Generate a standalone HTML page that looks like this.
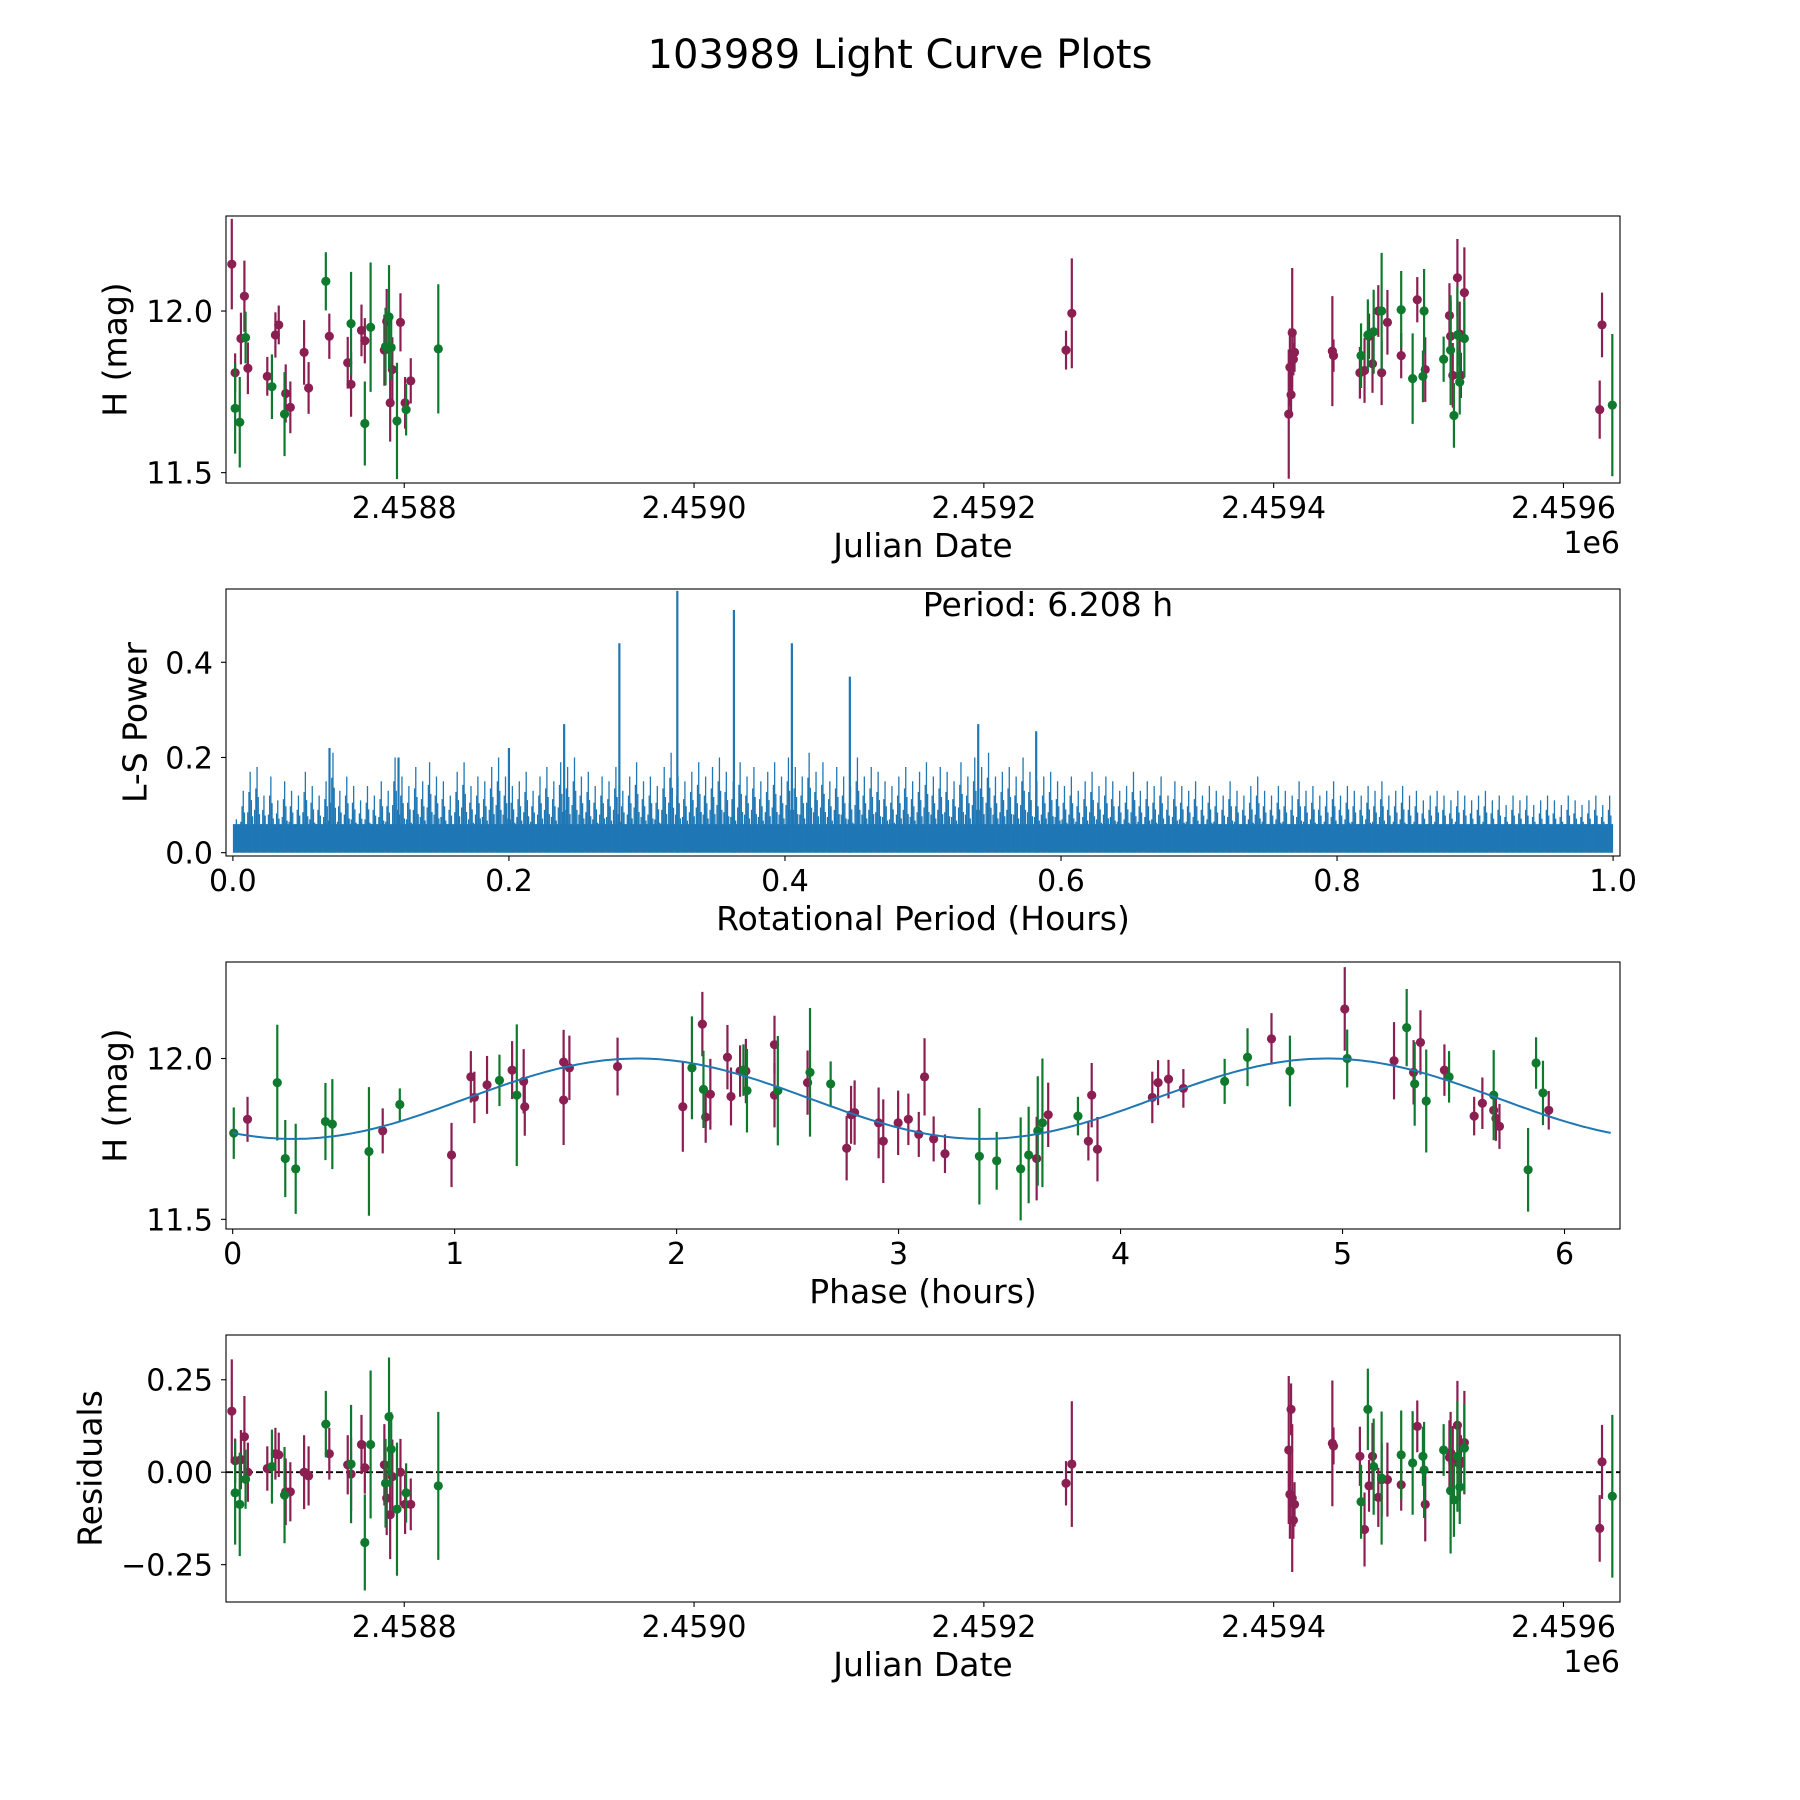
<!DOCTYPE html>
<html><head><meta charset="utf-8"><style>
body{margin:0;background:#fff}
svg{display:block;font-family:"DejaVu Sans","Liberation Sans",sans-serif}
</style></head><body>
<svg id="fig" width="1800" height="1800" viewBox="0 0 1800 1800">
<text x="900" y="68" font-size="40" text-anchor="middle">103989 Light Curve Plots</text>
</svg>
<script>
// ---- Panel 1: light curve data ----
const p1PurpleJD=[2458681.0,2458683.3,2458687.3,2458689.7,2458692.1,2458705.5,2458711.1,2458713.4,2458718.2,2458721.4,2458730.9,2458734.0,2458748.3,2458761.0,2458763.3,2458770.5,2458772.8,2458786.3,2458787.9,2458790.3,2458791.8,2458797.4,2458800.6,2458804.5,2459256.7,2459260.7,2459410.4,2459411.2,2459412.0,2459412.8,2459413.6,2459414.4,2459440.5,2459441.3,2459459.5,2459462.7,2459465.8,2459468.2,2459472.2,2459474.5,2459478.5,2459488.0,2459499.1,2459504.6,2459521.3,2459522.1,2459523.6,2459526.8,2459528.4,2459529.2,2459531.6,2459625.0,2459626.6];
const p1PurpleMag=[12.145,11.809,11.915,12.046,11.823,11.798,11.926,11.957,11.745,11.702,11.872,11.762,11.922,11.840,11.773,11.940,11.908,11.879,11.968,11.716,11.819,11.965,11.716,11.784,11.879,11.993,11.681,11.826,11.741,11.933,11.851,11.872,11.876,11.862,11.809,11.816,11.922,11.837,12.000,11.809,11.965,11.862,12.035,11.819,11.986,11.922,11.801,12.103,11.929,11.801,12.057,11.695,11.957];
const p1PurpleErr=[0.14,0.06,0.08,0.11,0.08,0.06,0.07,0.06,0.09,0.08,0.1,0.08,0.07,0.08,0.1,0.08,0.07,0.11,0.1,0.12,0.1,0.09,0.08,0.07,0.06,0.17,0.2,0.12,0.07,0.2,0.05,0.06,0.17,0.05,0.08,0.1,0.07,0.09,0.08,0.1,0.1,0.07,0.07,0.1,0.1,0.11,0.1,0.12,0.1,0.07,0.14,0.09,0.1];
const p1GreenJD=[2458683.3,2458686.5,2458690.5,2458708.7,2458717.4,2458745.9,2458763.3,2458772.8,2458776.8,2458787.1,2458789.5,2458791.0,2458795.0,2458801.3,2458823.5,2459460.3,2459465.0,2459469.0,2459474.5,2459488.0,2459495.9,2459503.0,2459503.8,2459517.3,2459522.1,2459524.4,2459526.8,2459528.4,2459531.6,2459633.7];
const p1GreenMag=[11.699,11.656,11.918,11.766,11.681,12.092,11.961,11.652,11.950,11.890,11.982,11.887,11.660,11.695,11.883,11.862,11.926,11.936,12.000,12.004,11.791,11.798,12.000,11.851,11.879,11.677,11.926,11.780,11.915,11.709];
const p1GreenErr=[0.14,0.14,0.08,0.1,0.13,0.09,0.16,0.13,0.2,0.12,0.16,0.1,0.18,0.08,0.2,0.1,0.11,0.13,0.18,0.12,0.14,0.08,0.13,0.07,0.17,0.1,0.15,0.1,0.12,0.22];
// ---- Panel 4: residuals ----
const resPurple=[0.165,0.031,0.034,0.096,0.0,0.01,0.05,0.047,-0.053,-0.053,0.0,-0.01,0.05,0.02,-0.005,0.075,0.012,0.02,-0.07,-0.115,-0.012,0.0,-0.087,-0.087,-0.03,0.022,0.06,-0.06,0.17,-0.07,-0.13,-0.087,0.078,0.071,0.043,-0.155,-0.037,0.043,-0.068,-0.02,-0.02,-0.034,0.124,-0.087,0.04,0.053,0.025,0.127,0.022,0.03,0.08,-0.152,0.028];
const resGreen=[-0.056,-0.087,-0.019,0.015,-0.062,0.13,0.022,-0.19,0.075,-0.03,0.15,0.062,-0.1,-0.056,-0.037,-0.08,0.17,0.015,-0.016,0.047,0.025,0.043,0.006,0.06,-0.05,-0.075,0.043,-0.04,0.065,-0.065];
// ---- Panel 2: periodogram ----
const lsPeriodStep=0.005;
const lsPower=[0.07,0.13,0.17,0.18,0.12,0.16,0.11,0.15,0.13,0.12,0.17,0.14,0.12,0.15,0.21,0.13,0.16,0.14,0.11,0.14,0.12,0.15,0.13,0.2,0.16,0.14,0.18,0.15,0.19,0.16,
0.15,0.12,0.17,0.19,0.14,0.16,0.15,0.18,0.2,0.16,0.14,0.15,0.17,0.13,0.16,0.18,0.15,0.19,0.18,0.2,0.16,0.17,0.14,0.16,0.15,0.18,0.13,0.16,0.19,0.15,
0.16,0.14,0.18,0.21,0.16,0.15,0.17,0.19,0.16,0.18,0.2,0.17,0.15,0.19,0.16,0.18,0.15,0.17,0.19,0.16,0.2,0.18,0.16,0.21,0.17,0.19,0.15,0.18,0.16,0.14,
0.2,0.16,0.18,0.17,0.15,0.14,0.16,0.18,0.15,0.17,0.19,0.16,0.18,0.17,0.15,0.19,0.16,0.2,0.18,0.21,0.16,0.17,0.18,0.16,0.2,0.17,0.15,0.16,0.17,0.15,
0.14,0.16,0.13,0.15,0.17,0.14,0.16,0.15,0.13,0.14,0.17,0.13,0.15,0.14,0.16,0.12,0.15,0.14,0.13,0.15,0.12,0.14,0.13,0.12,0.15,0.13,0.12,0.14,0.16,0.13,
0.12,0.14,0.13,0.12,0.15,0.13,0.14,0.12,0.13,0.15,0.12,0.14,0.13,0.12,0.14,0.13,0.15,0.12,0.13,0.14,0.12,0.13,0.11,0.12,0.13,0.12,0.11,0.13,0.12,0.11,
0.12,0.13,0.11,0.12,0.1,0.12,0.11,0.12,0.1,0.11,0.12,0.11,0.1,0.12,0.11,0.1,0.11,0.12,0.1,0.12];
const lsPeakPeriod=[0.24,0.28,0.322,0.363,0.405,0.447,0.54,0.582,0.12,0.07,0.2];
const lsPeakPower=[0.27,0.44,0.55,0.51,0.44,0.37,0.27,0.255,0.2,0.22,0.22];
const lsNoiseFloor=0.06;
// ---- Panel 3: phased light curve ----
const phPurple=[0.067,0.676,0.986,1.073,1.089,1.146,1.259,1.311,1.316,1.491,1.491,1.517,1.734,2.028,2.116,2.131,2.152,2.229,2.245,2.286,2.312,2.441,2.441,2.590,2.766,2.786,2.802,2.910,2.931,2.998,3.044,3.091,3.117,3.158,3.209,3.622,3.674,3.855,3.870,3.896,4.143,4.169,4.216,4.283,4.680,5.010,5.232,5.320,5.351,5.459,5.593,5.630,5.681,5.691,5.707,5.929];
const phPurpleMag=[11.811,11.775,11.700,11.943,11.879,11.918,11.964,11.929,11.850,11.989,11.871,11.971,11.975,11.850,12.107,11.818,11.889,12.004,11.882,11.961,11.961,12.043,11.886,11.925,11.721,11.825,11.832,11.800,11.743,11.800,11.811,11.764,11.943,11.750,11.704,11.689,11.825,11.743,11.886,11.718,11.879,11.925,11.936,11.907,12.061,12.154,11.993,11.957,12.050,11.964,11.821,11.861,11.839,11.814,11.789,11.839];
const phPurpleErr=[0.07,0.07,0.1,0.08,0.08,0.09,0.09,0.1,0.09,0.1,0.14,0.1,0.09,0.14,0.1,0.08,0.11,0.1,0.09,0.08,0.1,0.09,0.1,0.1,0.1,0.09,0.1,0.11,0.13,0.1,0.08,0.07,0.12,0.07,0.06,0.13,0.1,0.06,0.1,0.1,0.08,0.07,0.06,0.06,0.08,0.13,0.12,0.1,0.1,0.08,0.06,0.08,0.06,0.07,0.07,0.06];
const phGreen=[0.005,0.201,0.237,0.284,0.418,0.449,0.614,0.753,1.202,1.280,2.069,2.121,2.301,2.317,2.456,2.601,2.694,3.364,3.442,3.550,3.586,3.627,3.648,3.808,4.469,4.572,4.763,5.021,5.289,5.325,5.377,5.480,5.681,5.836,5.872,5.903];
const phGreenMag=[11.768,11.925,11.689,11.657,11.804,11.796,11.711,11.857,11.932,11.886,11.971,11.904,11.964,11.900,11.900,11.957,11.921,11.696,11.682,11.657,11.700,11.775,11.800,11.821,11.929,12.004,11.961,12.0,12.096,11.921,11.868,11.943,11.886,11.654,11.986,11.893];
const phGreenErr=[0.08,0.18,0.12,0.14,0.12,0.14,0.2,0.05,0.08,0.22,0.16,0.12,0.08,0.13,0.17,0.2,0.07,0.15,0.09,0.16,0.15,0.17,0.2,0.06,0.07,0.09,0.11,0.09,0.12,0.13,0.16,0.08,0.14,0.13,0.08,0.1];
// sinusoidal model fit parameters: mean, amplitude, phase-offset, period (hours), phase length
const fitParams=[11.875,0.125,1.05,3.104,6.208];

const NS='http://www.w3.org/2000/svg';
const svg=document.getElementById('fig');
const PURPLE='#8b1f52', GREEN='#0f7a2e', BLUE='#1f77b4';
const L=226,R=1620,H=267;
const TICK=30, TITLE=33;
function el(tag,attrs,parent){const e=document.createElementNS(NS,tag);for(const k in attrs)e.setAttribute(k,attrs[k]);(parent||svg).appendChild(e);return e;}
function txt(s,attrs,parent){const e=el('text',attrs,parent);e.textContent=s;return e;}

function makeAxes(top,xmin,xmax,ymin,ymax,name){
  const g=el('g',{});
  
  
  const clip=el('clipPath',{id:'clip-'+name},g);
  el('rect',{x:L,y:top,width:R-L,height:H},clip);
  const sx=v=>L+(v-xmin)/(xmax-xmin)*(R-L);
  const sy=v=>top+H-(v-ymin)/(ymax-ymin)*H;
  const plot=el('g',{'clip-path':'url(#clip-'+name+')'},g);
  return {g,plot,sx,sy,top};
}
function frame(ax,xticks,xlabels,yticks,ylabels,xtitle,ytitle,ytitleOff,offset){
  const g=ax.g;
  const f=el('rect',{x:L,y:ax.top,width:R-L,height:H,fill:'none',stroke:'#000','stroke-width':1.1},g);
  
  
  xticks.forEach((v,i)=>{const x=ax.sx(v);el('line',{x1:x,x2:x,y1:ax.top+H,y2:ax.top+H+5,stroke:'#000','stroke-width':1.1},g);
    const t=txt(xlabels[i],{x:x,y:ax.top+H+35,'font-size':TICK,'text-anchor':'middle'},g);
    
    });
  yticks.forEach((v,i)=>{const y=ax.sy(v);el('line',{x1:L-5,x2:L,y1:y,y2:y,stroke:'#000','stroke-width':1.1},g);
    const t=txt(ylabels[i],{x:L-13,y:y+11,'font-size':TICK,'text-anchor':'end'},g);
    
    });
  const xt=txt(xtitle,{x:(L+R)/2,y:ax.top+H+74,'font-size':TITLE,'text-anchor':'middle'},g);
  
  
  const yx=L-ytitleOff, yc=ax.top+H/2;
  const yt=txt(ytitle,{x:yx,y:yc,'font-size':TITLE,'text-anchor':'middle','dominant-baseline':'central',transform:`rotate(-90 ${yx} ${yc})`},g);
  
  
  if(offset){const o=txt(offset,{x:R,y:ax.top+H+70,'font-size':TICK,'text-anchor':'end'},g);
    
    }
}
function errPoints(ax,xs,ys,es,color,name){
  xs.forEach((v,i)=>{const x=ax.sx(v);const e=es?es[i]:0;
    if(e){const l=el('line',{x1:x,x2:x,y1:ax.sy(ys[i]-e),y2:ax.sy(ys[i]+e),stroke:color,'stroke-width':2.2},ax.plot);
      
      }
    const c=el('circle',{cx:x,cy:ax.sy(ys[i]),r:4.6,fill:color},ax.plot);
    
    });
}
const jdMin=2458677,jdMax=2459639;
const jdTicks=[2458800,2459000,2459200,2459400,2459600];
const jdLabels=['2.4588','2.4590','2.4592','2.4594','2.4596'];

// Panel 1
const a1=makeAxes(216,jdMin,jdMax,11.468,12.294,'light-curve-panel');
errPoints(a1,p1PurpleJD,p1PurpleMag,p1PurpleErr,PURPLE,'purple-obs');
errPoints(a1,p1GreenJD,p1GreenMag,p1GreenErr,GREEN,'green-obs');
frame(a1,jdTicks,jdLabels,[11.5,12.0],['11.5','12.0'],'Julian Date','H (mag)',111,'1e6');

// Panel 2
const a2=makeAxes(589,-0.005,1.005,-0.007,0.554,'periodogram-panel');
const floor=el('rect',{x:a2.sx(0),y:a2.sy(lsNoiseFloor),width:a2.sx(1)-a2.sx(0),height:a2.sy(0)-a2.sy(lsNoiseFloor),fill:BLUE},a2.plot);


const subScale=[0.5,0.75,1,0.65,0.45];
lsPower.forEach((p,i)=>{const x=a2.sx(i*lsPeriodStep+0.0025);
  subScale.forEach((s,k)=>{const xx=x+(k-2)*1.2;
    const l=el('line',{x1:xx,x2:xx,y1:a2.sy(0),y2:a2.sy(p*s),stroke:BLUE,'stroke-width':1.3},a2.plot);
    
    });
});
lsPeakPeriod.forEach((v,i)=>{const x=a2.sx(v);
  const l=el('line',{x1:x,x2:x,y1:a2.sy(0),y2:a2.sy(lsPeakPower[i]),stroke:BLUE,'stroke-width':2.2},a2.plot);
  
  });
frame(a2,[0,0.2,0.4,0.6,0.8,1.0],['0.0','0.2','0.4','0.6','0.8','1.0'],[0,0.2,0.4],['0.0','0.2','0.4'],'Rotational Period (Hours)','L-S Power',91);
const pt=txt('Period: 6.208 h',{x:1048,y:616,'font-size':TITLE,'text-anchor':'middle'},a2.g);



// Panel 3
const a3=makeAxes(962,-0.03,6.25,11.47,12.30,'phase-panel');
errPoints(a3,phPurple,phPurpleMag,phPurpleErr,PURPLE,'purple-phase');
errPoints(a3,phGreen,phGreenMag,phGreenErr,GREEN,'green-phase');
let d='';
for(let i=0;i<=300;i++){const x=fitParams[4]*i/300;
  const y=fitParams[0]+fitParams[1]*Math.sin(2*Math.PI*(x-fitParams[2])/fitParams[3]);
  d+=(i?'L':'M')+a3.sx(x).toFixed(1)+' '+a3.sy(y).toFixed(1);}
const fit=el('path',{d:d,fill:'none',stroke:BLUE,'stroke-width':2},a3.plot);


frame(a3,[0,1,2,3,4,5,6],['0','1','2','3','4','5','6'],[11.5,12.0],['11.5','12.0'],'Phase (hours)','H (mag)',111);

// Panel 4
const a4=makeAxes(1335,jdMin,jdMax,-0.351,0.371,'residuals-panel');
const zl=el('line',{x1:L,x2:R,y1:a4.sy(0),y2:a4.sy(0),stroke:'#000','stroke-width':1.8,'stroke-dasharray':'7,3'},a4.plot);


errPoints(a4,p1PurpleJD,resPurple,p1PurpleErr,PURPLE,'purple-resid');
errPoints(a4,p1GreenJD,resGreen,p1GreenErr,GREEN,'green-resid');
frame(a4,jdTicks,jdLabels,[-0.25,0,0.25],['\u22120.25','0.00','0.25'],'Julian Date','Residuals',136,'1e6');
</script>
</body></html>
